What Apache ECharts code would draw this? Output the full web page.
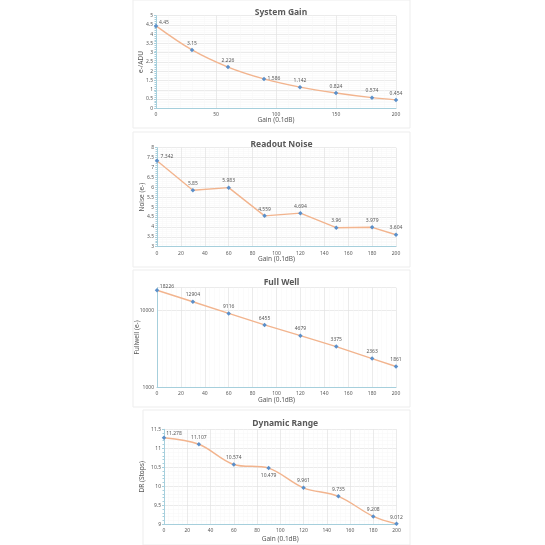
<!DOCTYPE html>
<html><head><meta charset="utf-8">
<script src="https://cdn.jsdelivr.net/npm/echarts@6/dist/echarts.min.js"></script>
<style>html,body{margin:0;padding:0;background:#fff}#c{width:545px;height:545px}</style>
</head><body><div id="c"></div>
<script>
const gainX = [0, 30, 60, 90, 120, 150, 180, 200];
const sysGain = [4.45, 3.15, 2.226, 1.586, 1.142, 0.824, 0.574, 0.454];
const readNoise = [7.342, 5.85, 5.983, 4.559, 4.694, 3.96, 3.979, 3.604];
const fullWell = [18226, 12904, 9116, 6455, 4679, 3375, 2363, 1861];
const dynRange = [11.278, 11.107, 10.574, 10.479, 9.961, 9.735, 9.208, 9.012];
const fullWellTicks = [1000, 10000];
const titles = ['System Gain', 'Readout Noise', 'Full Well', 'Dynamic Range'];
const yNames = ['e-/ADU', 'Noise (e-)', 'Fullwell (e-)', 'DR (Stops)'];
const xName = 'Gain (0.1dB)';

const FONT = 'Noto Sans';
const grids = [
  {left:156, top:15.7, width:240, height:92.6},
  {left:157, top:147.7, width:239, height:99},
  {left:157, top:287.7, width:239, height:99.6},
  {left:164, top:429.3, width:232.5, height:95}
];
const titleTops = [3, 135, 273, 414];
const xTitleTops = [117, 256, 397, 536];
const yTitleX = [141, 142, 137, 142];
const boxes = [[133,0,277,128],[133,132,277,135],[133,270,277,137],[143,410,267,135]];

const axisLineCol = '#A6CFDC';
const gridCol = '#E3E3E3';
const minorCol = '#F6F6F6';

function xAxis(i, interval){
  return {type:'value', gridIndex:i, min:0, max:200, interval:interval,
    axisLine:{show:true, onZero:false, lineStyle:{color:axisLineCol}},
    axisTick:{show:false},
    axisLabel:{fontSize:5, color:'#595959', fontFamily:FONT, margin:4},
    splitLine:{show:true, lineStyle:{color:gridCol, width:0.7}},
    minorTick:{show:false, splitNumber:5},
    minorSplitLine:{show:true, lineStyle:{color:minorCol, width:0.5}}
  };
}
function yAxis(i, opts){
  return Object.assign({type:'value', gridIndex:i,
    axisLine:{show:true, lineStyle:{color:axisLineCol}},
    axisTick:{show:true, length:2, lineStyle:{color:axisLineCol}},
    minorTick:{show:true, splitNumber:5, length:1.5, lineStyle:{color:axisLineCol}},
    axisLabel:{fontSize:5, color:'#595959', fontFamily:FONT, margin:3},
    splitLine:{show:true, lineStyle:{color:gridCol, width:0.7}},
    minorSplitLine:{show:true, lineStyle:{color:minorCol, width:0.5}}
  }, opts);
}

function pairs(ys){ return gainX.map((x,k)=>[x, ys[k]]); }

function series(i, ys, smooth, labelOffsets){
  return {type:'line', xAxisIndex:i, yAxisIndex:i, smooth:smooth ? 0.35 : false,
    data: pairs(ys).map((p,k)=>({value:p, label:{offset:labelOffsets[k] || [0,0]}})),
    symbol:'diamond', symbolSize:4.5,
    itemStyle:{color:'#5B8FC9'},
    lineStyle:{color:'#F2B48E', width:1.4},
    label:{show:true, position:'top', distance:2, fontSize:5, color:'#595959', fontFamily:FONT,
      formatter:p=>String(p.value[1])},
    silent:true, animation:false
  };
}

const graphic = [];
boxes.forEach(b=>graphic.push({type:'rect', shape:{x:b[0], y:b[1], width:b[2], height:b[3]},
  style:{fill:'none', stroke:'#EDEDED', lineWidth:1}, silent:true, z:-10}));
yNames.forEach((n,i)=>{
  const g = grids[i];
  graphic.push({type:'text', x:yTitleX[i], y:g.top + g.height/2, rotation:Math.PI/2,
    style:{text:n, fontSize:6.5, fill:'#595959', fontFamily:FONT, align:'center', verticalAlign:'middle'}});
  graphic.push({type:'text', x:g.left + g.width/2, y:xTitleTops[i],
    style:{text:xName, fontSize:6.5, fill:'#595959', fontFamily:FONT, align:'center', verticalAlign:'top'}});
});

const option = {
  animation:false,
  backgroundColor:'#fff',
  title: titles.map((t,i)=>({text:t, left:grids[i].left + grids[i].width/2, textAlign:'center', top:titleTops[i],
    textStyle:{fontSize:8.5, fontWeight:'bold', color:'#595959', fontFamily:FONT}})),
  grid: grids,
  xAxis: [xAxis(0,50), xAxis(1,20), xAxis(2,20), xAxis(3,20)],
  yAxis: [
    yAxis(0,{min:0, max:5, interval:0.5}),
    yAxis(1,{min:3, max:8, interval:0.5}),
    yAxis(2,{type:'log', logBase:10, min:1000, max:19650,
      minorTick:{show:false}, axisTick:{show:false},
      minorSplitLine:{show:false},
      axisLabel:{fontSize:5, color:'#595959', fontFamily:FONT, margin:3, showMaxLabel:false,
        formatter:v=>{ const r = Math.round(v); return fullWellTicks.indexOf(r) >= 0 ? String(r) : ''; }}}),
    yAxis(3,{min:9, max:11.5, interval:0.5})
  ],
  series: [
    series(0, sysGain, true, [[8,3],[0,0],[0,0],[10,6],[0,0],[0,0],[0,0],[0,0]]),
    series(1, readNoise, false, [[10,3],[0,0],[0,0],[0,0],[0,0],[0,0],[0,0],[0,0]]),
    series(2, fullWell, false, [[10,3],[0,0],[0,0],[0,0],[0,0],[0,0],[0,0],[0,0]]),
    series(3, dynRange, true, [[10,3],[0,0],[0,0],[0,14],[0,0],[0,0],[0,0],[0,0]])
  ],
  graphic: graphic
};
const chart = echarts.init(document.getElementById('c'), null, {renderer:'canvas'});
chart.setOption(option);
</script></body></html>
